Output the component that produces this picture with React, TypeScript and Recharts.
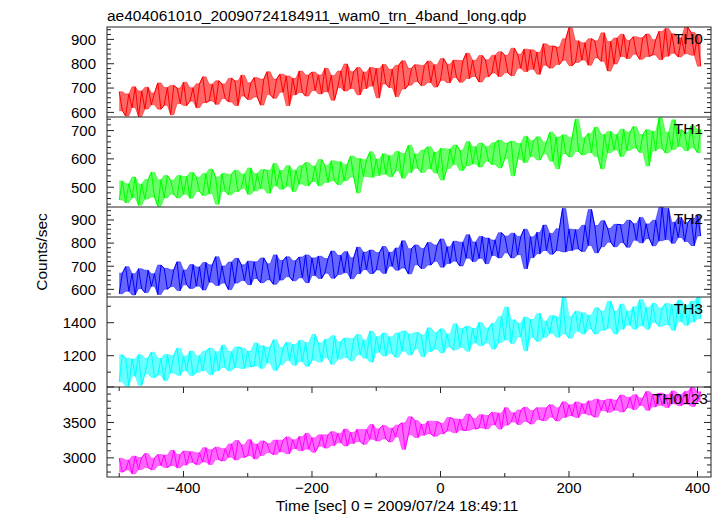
import { ComposedChart, Area, Line, XAxis, YAxis } from "recharts";

// light curve, 10 s bins from -500 s; each bin keeps the upper and lower swing
const binStart = -500;
const binStep = 10;

const th0Hi = [
  685, 676, 705, 688, 703, 680, 721, 702, 711, 700,
  724, 701, 718, 746, 716, 730, 717, 740, 730, 753,
  722, 743, 737, 767, 737, 757, 750, 740, 770, 754,
  766, 754, 781, 752, 770, 799, 767, 784, 766, 784,
  780, 797, 777, 794, 812, 781, 796, 793, 811, 796,
  821, 798, 815, 813, 843, 814, 834, 816, 835, 849,
  835, 864, 839, 860, 857, 847, 882, 873, 869, 903,
  948, 894, 886, 903, 894, 927, 891, 906, 921, 896,
  911, 907, 922, 899, 933, 945, 923, 907, 950, 929, 916,
];
const th0Lo = [
  607, 585, 620, 583, 614, 631, 613, 629, 590, 636,
  628, 646, 619, 640, 647, 633, 657, 643, 628, 667,
  653, 663, 630, 673, 658, 683, 628, 672, 682, 667,
  690, 676, 685, 650, 701, 688, 698, 672, 698, 708,
  660, 717, 702, 665, 696, 712, 726, 710, 723, 704,
  732, 722, 743, 724, 739, 748, 725, 746, 762, 748,
  763, 751, 781, 768, 777, 757, 794, 782, 797, 814,
  792, 805, 815, 794, 824, 810, 770, 799, 830, 821,
  839, 818, 830, 836, 817, 831, 843, 828, 841, 835, 790,
];

const th1Hi = [
  522, 512, 536, 511, 527, 553, 526, 541, 525, 541,
  538, 552, 535, 548, 564, 536, 548, 546, 560, 547,
  568, 548, 562, 559, 584, 559, 576, 560, 576, 587,
  575, 598, 577, 593, 590, 580, 610, 601, 597, 625,
  599, 618, 611, 626, 619, 648, 617, 631, 643, 624,
  637, 635, 649, 631, 661, 643, 656, 644, 657, 666,
  656, 662, 654, 680, 665, 678, 659, 694, 677, 685,
  676, 740, 675, 690, 712, 686, 697, 686, 705, 695,
  714, 686, 703, 697, 745, 694, 738, 703, 693, 717, 703,
];
const th1Lo = [
  455, 445, 463, 436, 458, 465, 433, 462, 475, 462,
  475, 461, 485, 471, 477, 440, 486, 473, 484, 496,
  475, 487, 495, 479, 504, 493, 503, 485, 511, 505,
  520, 505, 517, 523, 509, 523, 536, 480, 538, 535,
  541, 546, 537, 557, 532, 552, 567, 552, 565, 550,
  525, 566, 580, 559, 576, 582, 571, 592, 580, 568,
  601, 540, 599, 587, 608, 596, 618, 592, 565, 619,
  607, 626, 614, 622, 608, 565, 622, 631, 608, 630,
  638, 623, 575, 629, 637, 621, 633, 644, 629, 639, 622,
];

const th2Hi = [
  670, 698, 668, 689, 683, 668, 705, 691, 685, 719,
  684, 707, 697, 716, 706, 741, 701, 718, 734, 706,
  722, 719, 736, 711, 749, 725, 741, 724, 740, 749,
  736, 743, 733, 766, 747, 763, 737, 782, 761, 770,
  759, 785, 760, 779, 810, 776, 792, 777, 803, 792,
  818, 784, 808, 804, 836, 805, 829, 822, 813, 845,
  830, 843, 829, 860, 827, 846, 878, 842, 862, 950,
  860, 858, 877, 945, 876, 897, 864, 881, 880, 899,
  884, 911, 883, 899, 955, 950, 890, 911, 888, 907, 919,
];
const th2Lo = [
  581, 592, 576, 603, 586, 613, 578, 601, 612, 595,
  620, 604, 614, 597, 631, 617, 627, 599, 627, 638,
  620, 647, 629, 641, 622, 640, 655, 637, 650, 629,
  660, 647, 670, 648, 664, 672, 646, 668, 685, 668,
  684, 669, 700, 683, 692, 667, 706, 690, 705, 721,
  696, 712, 722, 701, 735, 720, 734, 711, 746, 736,
  758, 736, 750, 690, 737, 754, 768, 752, 767, 762,
  768, 774, 764, 790, 758, 784, 804, 784, 802, 782,
  812, 801, 819, 788, 810, 815, 799, 824, 807, 789, 831,
];

const th3Hi = [
  1205, 1185, 1180, 1206, 1184, 1221, 1184, 1207, 1202, 1245,
  1198, 1228, 1199, 1227, 1246, 1224, 1264, 1225, 1253, 1246,
  1228, 1277, 1260, 1251, 1297, 1250, 1281, 1268, 1293, 1280,
  1328, 1275, 1299, 1321, 1284, 1307, 1304, 1329, 1295, 1349,
  1315, 1338, 1315, 1338, 1350, 1332, 1341, 1326, 1369, 1342,
  1363, 1331, 1393, 1365, 1379, 1365, 1402, 1368, 1396, 1438,
  1495, 1417, 1398, 1434, 1420, 1456, 1410, 1443, 1436, 1556,
  1439, 1470, 1460, 1446, 1491, 1469, 1530, 1471, 1513, 1469,
  1497, 1540, 1492, 1518, 1489, 1516, 1510, 1536, 1504, 1530, 1557,
];
const th3Lo = [
  1042, 1015, 1076, 1020, 1089, 1067, 1083, 1050, 1095, 1081,
  1108, 1080, 1100, 1110, 1084, 1108, 1128, 1108, 1128, 1122,
  1132, 1138, 1123, 1156, 1111, 1145, 1171, 1142, 1165, 1136,
  1173, 1161, 1187, 1148, 1179, 1189, 1169, 1205, 1185, 1161,
  1221, 1198, 1213, 1191, 1227, 1204, 1242, 1194, 1225, 1239,
  1217, 1253, 1234, 1250, 1227, 1277, 1260, 1277, 1240, 1279,
  1296, 1274, 1314, 1230, 1310, 1287, 1311, 1334, 1312, 1332,
  1306, 1348, 1332, 1362, 1332, 1355, 1367, 1331, 1361, 1385,
  1361, 1382, 1360, 1402, 1378, 1388, 1354, 1406, 1384, 1404, 1425,
];

const thSumHi = [
  2994, 2969, 3024, 3005, 3061, 2996, 3047, 3039, 3107, 3047,
  3096, 3088, 3072, 3144, 3116, 3150, 3130, 3197, 3245, 3185,
  3257, 3194, 3239, 3204, 3251, 3250, 3295, 3256, 3300, 3347,
  3284, 3325, 3325, 3370, 3345, 3407, 3359, 3402, 3400, 3471,
  3410, 3457, 3418, 3462, 3494, 3580, 3528, 3474, 3518, 3513,
  3489, 3569, 3550, 3545, 3619, 3557, 3610, 3598, 3643, 3630,
  3708, 3636, 3676, 3714, 3667, 3708, 3708, 3750, 3707, 3791,
  3748, 3789, 3763, 3804, 3828, 3809, 3830, 3816, 3887, 3854,
  3892, 3844, 3935, 3894, 3914, 3892, 3945, 3895, 3935, 3997, 3932,
];
const thSumLo = [
  2800, 2828, 2775, 2836, 2863, 2833, 2893, 2863, 2892, 2860,
  2898, 2936, 2907, 2941, 2907, 2976, 2957, 3008, 2970, 3007,
  3030, 2985, 3034, 3074, 3046, 3085, 3059, 3128, 3100, 3123,
  3080, 3164, 3138, 3174, 3213, 3167, 3203, 3230, 3191, 3264,
  3239, 3267, 3225, 3295, 3120, 3325, 3286, 3320, 3338, 3304,
  3341, 3378, 3354, 3391, 3386, 3407, 3423, 3409, 3465, 3406,
  3462, 3507, 3471, 3512, 3478, 3540, 3527, 3572, 3520, 3571,
  3592, 3569, 3627, 3604, 3575, 3668, 3643, 3673, 3647, 3707,
  3681, 3739, 3671, 3720, 3742, 3712, 3765, 3737, 3759, 3727, 3797,
];

const xTicks = [-500, -400, -300, -200, -100, 0, 100, 200, 300, 400];
const xMajor = [-400, -200, 0, 200, 400];

const th0Ticks = [600, 620, 640, 660, 680, 700, 720, 740, 760, 780, 800, 820, 840, 860, 880, 900, 920, 940];
const th0Major = [600, 700, 800, 900];
const th1Ticks = [440, 460, 480, 500, 520, 540, 560, 580, 600, 620, 640, 660, 680, 700, 720, 740];
const th1Major = [500, 600, 700];
const th2Ticks = [580, 600, 620, 640, 660, 680, 700, 720, 740, 760, 780, 800, 820, 840, 860, 880, 900, 920, 940];
const th2Major = [600, 700, 800, 900];
const th3Ticks = [1100, 1200, 1300, 1400, 1500];
const th3Major = [1200, 1400];
const thSumTicks = [2800, 2900, 3000, 3100, 3200, 3300, 3400, 3500, 3600, 3700, 3800, 3900, 4000];
const thSumMajor = [3000, 3500, 4000];

const W = 723;
const H = 516;
const PLOT_L = 107;
const PLOT_R = 711;
const PANEL_TOP = 27;
const PANEL_H = 90;
const PAD = 12;
const AXIS = "#222";
const FONT = "'Liberation Sans', Arial, Helvetica, sans-serif";

const panels = [
  { name: "TH0", nameX: 703, color: "#ff0000", hi: th0Hi, lo: th0Lo, domain: [581, 951], ticks: th0Ticks, major: th0Major },
  { name: "TH1", nameX: 703, color: "#00ff00", hi: th1Hi, lo: th1Lo, domain: [430, 748], ticks: th1Ticks, major: th1Major },
  { name: "TH2", nameX: 703, color: "#0000ff", hi: th2Hi, lo: th2Lo, domain: [567, 956], ticks: th2Ticks, major: th2Major },
  { name: "TH3", nameX: 703, color: "#00ffff", hi: th3Hi, lo: th3Lo, domain: [1010, 1556], ticks: th3Ticks, major: th3Major },
  { name: "TH0123", nameX: 708, color: "#ff00ff", hi: thSumHi, lo: thSumLo, domain: [2730, 4000], ticks: thSumTicks, major: thSumMajor },
];

// two samples per bin; the order inside a bin follows the parity of the pair so the trace is not a regular saw
function buildRows(hi: number[], lo: number[]) {
  const rows: { t: number; v: number; band: [number, number] }[] = [];
  hi.forEach((h, i) => {
    const t = binStart + i * binStep;
    const lowFirst = (h + lo[i]) % 2 === 1;
    const band: [number, number] = [lo[i], h];
    rows.push({ t, v: lowFirst ? lo[i] : h, band });
    rows.push({ t: t + binStep / 2, v: lowFirst ? h : lo[i], band });
  });
  return rows;
}

function makeYTick(major: number[]) {
  return (props: any) => {
    const { y, payload } = props;
    const isMajor = major.includes(payload.value);
    const len = isMajor ? 7 : 4;
    return (
      <g>
        <line x1={PLOT_L} x2={PLOT_L + len} y1={y} y2={y} stroke={AXIS} />
        <line x1={PLOT_R - len} x2={PLOT_R} y1={y} y2={y} stroke={AXIS} />
        {isMajor && (
          <text x={PLOT_L - 11} y={y} dy="0.36em" textAnchor="end" fontSize={15} fontFamily={FONT} fill="#000">
            {payload.value}
          </text>
        )}
      </g>
    );
  };
}

function makeXTick(showLabels: boolean) {
  return (props: any) => {
    const { x, payload } = props;
    const v = payload.value;
    const isMajor = xMajor.includes(v);
    const len = isMajor ? 6 : 4;
    return (
      <g>
        <line x1={x} x2={x} y1={PAD} y2={PAD + len} stroke={AXIS} />
        <line x1={x} x2={x} y1={PAD + PANEL_H - len} y2={PAD + PANEL_H} stroke={AXIS} />
        {showLabels && isMajor && (
          <text x={x} y={PAD + PANEL_H + 15.5} textAnchor="middle" fontSize={15} fontFamily={FONT} fill="#000">
            {v < 0 ? "\u2212" + Math.abs(v) : String(v)}
          </text>
        )}
      </g>
    );
  };
}

function Panel({ p, index }: { p: (typeof panels)[number]; index: number }) {
  const last = index === panels.length - 1;
  const data = buildRows(p.hi, p.lo);
  return (
    <div style={{ position: "absolute", left: 0, top: PANEL_TOP + index * PANEL_H - PAD }}>
      <ComposedChart
        width={W}
        height={last ? PAD + PANEL_H + 30 : PANEL_H + 2 * PAD}
        data={data}
        margin={{ top: PAD, right: W - PLOT_R, bottom: last ? 0 : PAD, left: 0 }}
      >
        <XAxis
          dataKey="t"
          type="number"
          domain={[-519, 421]}
          ticks={xTicks}
          interval={0}
          allowDataOverflow
          axisLine={false}
          tickLine={false}
          height={last ? 30 : 0}
          tick={makeXTick(last)}
        />
        <YAxis
          type="number"
          domain={p.domain}
          ticks={p.ticks}
          interval={0}
          allowDataOverflow
          axisLine={false}
          tickLine={false}
          width={PLOT_L}
          tick={makeYTick(p.major)}
        />
        <Area
          dataKey="band"
          type="linear"
          stroke={p.color}
          strokeOpacity={0.45}
          strokeWidth={1}
          fill={p.color}
          fillOpacity={0.6}
          dot={false}
          activeDot={false}
          isAnimationActive={false}
        />
        <Line dataKey="v" type="linear" stroke={p.color} strokeWidth={1} dot={false} isAnimationActive={false} />
      </ComposedChart>
    </div>
  );
}

export default function App() {
  return (
    <div style={{ position: "absolute", left: 0, top: 0, width: W, height: H, background: "#fff", fontFamily: FONT }}>
      {panels.map((p, i) => (
        <Panel key={p.name} p={p} index={i} />
      ))}
      <svg width={W} height={H} style={{ position: "absolute", left: 0, top: 0, pointerEvents: "none" }}>
        <rect x={PLOT_L} y={PANEL_TOP} width={PLOT_R - PLOT_L} height={PANEL_H * 5} fill="none" stroke={AXIS} />
        {panels.slice(1).map((p, i) => (
          <line key={p.name} x1={PLOT_L} x2={PLOT_R} y1={PANEL_TOP + (i + 1) * PANEL_H} y2={PANEL_TOP + (i + 1) * PANEL_H} stroke={AXIS} />
        ))}
        {panels.map((p, i) => (
          <text key={p.name} x={p.nameX} y={PANEL_TOP + i * PANEL_H + 16.5} textAnchor="end" fontSize={15.5} fill="#000">
            {p.name}
          </text>
        ))}
        <text x={107} y={21} fontSize={15.5} fill="#000">
          ae404061010_20090724184911_wam0_trn_4band_long.qdp
        </text>
        <text x={397} y={511} textAnchor="middle" fontSize={15.5} fill="#000">
          Time [sec] 0 = 2009/07/24 18:49:11
        </text>
        <text x={47} y={252} textAnchor="middle" fontSize={15.5} fill="#000" transform="rotate(-90 47 252)">
          Counts/sec
        </text>
      </svg>
    </div>
  );
}
